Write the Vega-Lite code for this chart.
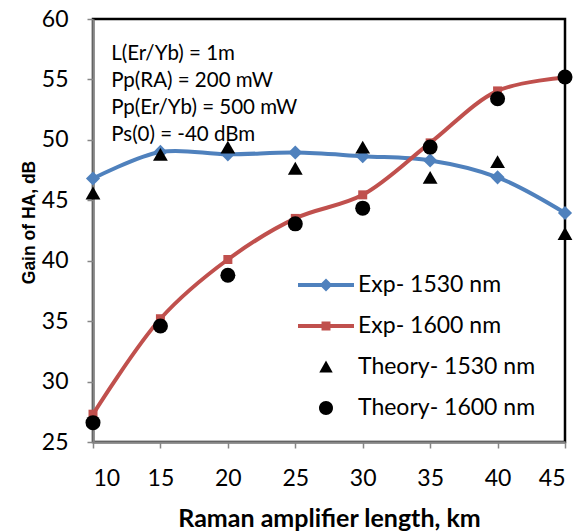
{
  "$schema": "https://vega.github.io/schema/vega-lite/v6.json",
  "width": 472,
  "height": 423,
  "autosize": {"type": "none"},
  "padding": {"left": 93, "top": 19, "right": 15, "bottom": 90},
  "background": "white",
  "config": {
    "view": {"stroke": "black", "strokeWidth": 2.5},
    "font": "Lato",
    "axis": {
      "grid": false,
      "domainColor": "#868686",
      "domainWidth": 2.5,
      "tickColor": "#868686",
      "tickWidth": 1.5,
      "tickSize": 6,
      "labelColor": "black",
      "labelFont": "Lato",
      "labelFontSize": 23,
      "titleColor": "black",
      "titleFontWeight": "bold"
    }
  },
  "data": {
    "values": [
      {"series": "Exp- 1530 nm", "length": 10, "gain": 46.8},
      {"series": "Exp- 1530 nm", "length": 15, "gain": 49.0},
      {"series": "Exp- 1530 nm", "length": 20, "gain": 48.8},
      {"series": "Exp- 1530 nm", "length": 25, "gain": 48.95},
      {"series": "Exp- 1530 nm", "length": 30, "gain": 48.65},
      {"series": "Exp- 1530 nm", "length": 35, "gain": 48.3},
      {"series": "Exp- 1530 nm", "length": 40, "gain": 46.9},
      {"series": "Exp- 1530 nm", "length": 45, "gain": 43.95},
      {"series": "Exp- 1600 nm", "length": 10, "gain": 27.3},
      {"series": "Exp- 1600 nm", "length": 15, "gain": 35.2},
      {"series": "Exp- 1600 nm", "length": 20, "gain": 40.1},
      {"series": "Exp- 1600 nm", "length": 25, "gain": 43.5},
      {"series": "Exp- 1600 nm", "length": 30, "gain": 45.45},
      {"series": "Exp- 1600 nm", "length": 35, "gain": 49.75},
      {"series": "Exp- 1600 nm", "length": 40, "gain": 54.05},
      {"series": "Exp- 1600 nm", "length": 45, "gain": 55.15},
      {"series": "Theory- 1530 nm", "length": 10, "gain": 45.6},
      {"series": "Theory- 1530 nm", "length": 15, "gain": 48.8},
      {"series": "Theory- 1530 nm", "length": 20, "gain": 49.4},
      {"series": "Theory- 1530 nm", "length": 25, "gain": 47.65},
      {"series": "Theory- 1530 nm", "length": 30, "gain": 49.4},
      {"series": "Theory- 1530 nm", "length": 35, "gain": 46.9},
      {"series": "Theory- 1530 nm", "length": 40, "gain": 48.2},
      {"series": "Theory- 1530 nm", "length": 45, "gain": 42.25},
      {"series": "Theory- 1600 nm", "length": 10, "gain": 26.6},
      {"series": "Theory- 1600 nm", "length": 15, "gain": 34.6},
      {"series": "Theory- 1600 nm", "length": 20, "gain": 38.8},
      {"series": "Theory- 1600 nm", "length": 25, "gain": 43.05},
      {"series": "Theory- 1600 nm", "length": 30, "gain": 44.35},
      {"series": "Theory- 1600 nm", "length": 35, "gain": 49.4},
      {"series": "Theory- 1600 nm", "length": 40, "gain": 53.4},
      {"series": "Theory- 1600 nm", "length": 45, "gain": 55.2}
    ]
  },
  "layer": [
    {
      "encoding": {
        "x": {
          "field": "length", "type": "quantitative",
          "scale": {"domain": [10, 45], "nice": false, "zero": false},
          "axis": {"values": [10, 15, 20, 25, 30, 35, 40, 45], "title": "Raman amplifier length, km", "titleFont": "Lato", "titleFontSize": 25, "titlePadding": 16, "labelPadding": 19}
        },
        "y": {
          "field": "gain", "type": "quantitative",
          "scale": {"domain": [25, 60], "nice": false, "zero": false},
          "axis": {"values": [25, 30, 35, 40, 45, 50, 55, 60], "title": "Gain of HA, dB", "titleFont": "Liberation Sans", "titleFontSize": 17.5, "titlePadding": 3, "titleY": 203, "labelPadding": 19}
        }
      },
      "layer": [
        {
          "transform": [{"filter": "datum.series === 'Exp- 1530 nm'"}],
          "mark": {"type": "line", "interpolate": "catmull-rom", "color": "#4F81BD", "strokeWidth": 4}
        },
        {
          "transform": [{"filter": "datum.series === 'Exp- 1600 nm'"}],
          "mark": {"type": "line", "interpolate": "catmull-rom", "color": "#C0504D", "strokeWidth": 4}
        },
        {
          "transform": [{"filter": "datum.series === 'Exp- 1530 nm'"}],
          "mark": {"type": "point", "shape": "diamond", "filled": true, "color": "#4F81BD", "size": 200, "opacity": 1}
        },
        {
          "transform": [{"filter": "datum.series === 'Exp- 1600 nm'"}],
          "mark": {"type": "point", "shape": "square", "filled": true, "color": "#C0504D", "size": 81, "opacity": 1}
        },
        {
          "transform": [{"filter": "datum.series === 'Theory- 1530 nm'"}],
          "mark": {"type": "point", "shape": "triangle-up", "filled": true, "color": "black", "size": 220, "opacity": 1}
        },
        {
          "transform": [{"filter": "datum.series === 'Theory- 1600 nm'"}],
          "mark": {"type": "point", "shape": "circle", "filled": true, "color": "black", "size": 225, "opacity": 1}
        },
        {
          "transform": [{"filter": "false"}],
          "mark": {"type": "point", "filled": true, "opacity": 1},
          "encoding": {
            "color": {
              "field": "series", "type": "nominal",
              "scale": {"domain": ["Exp- 1530 nm", "Exp- 1600 nm", "Theory- 1530 nm", "Theory- 1600 nm"], "range": ["#4F81BD", "#C0504D", "black", "black"]},
              "legend": {
                "title": null, "orient": "none", "legendX": 205, "legendY": 238,
                "symbolOpacity": 1, "symbolSize": 3136, "symbolStrokeWidth": 0,
                "labelFont": "Lato", "labelFontSize": 23, "labelColor": "black", "labelOffset": 4,
                "rowPadding": 1, "gridAlign": "all", "labelLimit": 300
              }
            },
            "shape": {
              "field": "series", "type": "nominal",
              "scale": {"domain": ["Exp- 1530 nm", "Exp- 1600 nm", "Theory- 1530 nm", "Theory- 1600 nm"],
                "range": [
                  "M-1,-0.07L1,-0.07L1,0.07L-1,0.07Z M0,-0.23L0.23,0L0,0.23L-0.23,0Z",
                  "M-1,-0.07L1,-0.07L1,0.07L-1,0.07Z M-0.16,-0.16L0.16,-0.16L0.16,0.16L-0.16,0.16Z",
                  "M0,-0.23L0.24,0.2L-0.24,0.2Z",
                  "M-0.25,0A0.25,0.25,0,1,1,0.25,0A0.25,0.25,0,1,1,-0.25,0Z"
                ]}
            }
          }
        }
      ]
    },
    {
      "data": {"values": [{"note": "parameters"}]},
      "mark": {"type": "text", "align": "left", "baseline": "top", "font": "Lato", "fontSize": 20.5, "lineHeight": 27, "color": "black"},
      "encoding": {
        "x": {"datum": 11.35, "type": "quantitative"},
        "y": {"datum": 57.9, "type": "quantitative"},
        "text": {"value": ["L(Er/Yb) = 1m", "Pp(RA) = 200 mW", "Pp(Er/Yb) = 500 mW", "Ps(0) = -40 dBm"]}
      }
    }
  ]
}
